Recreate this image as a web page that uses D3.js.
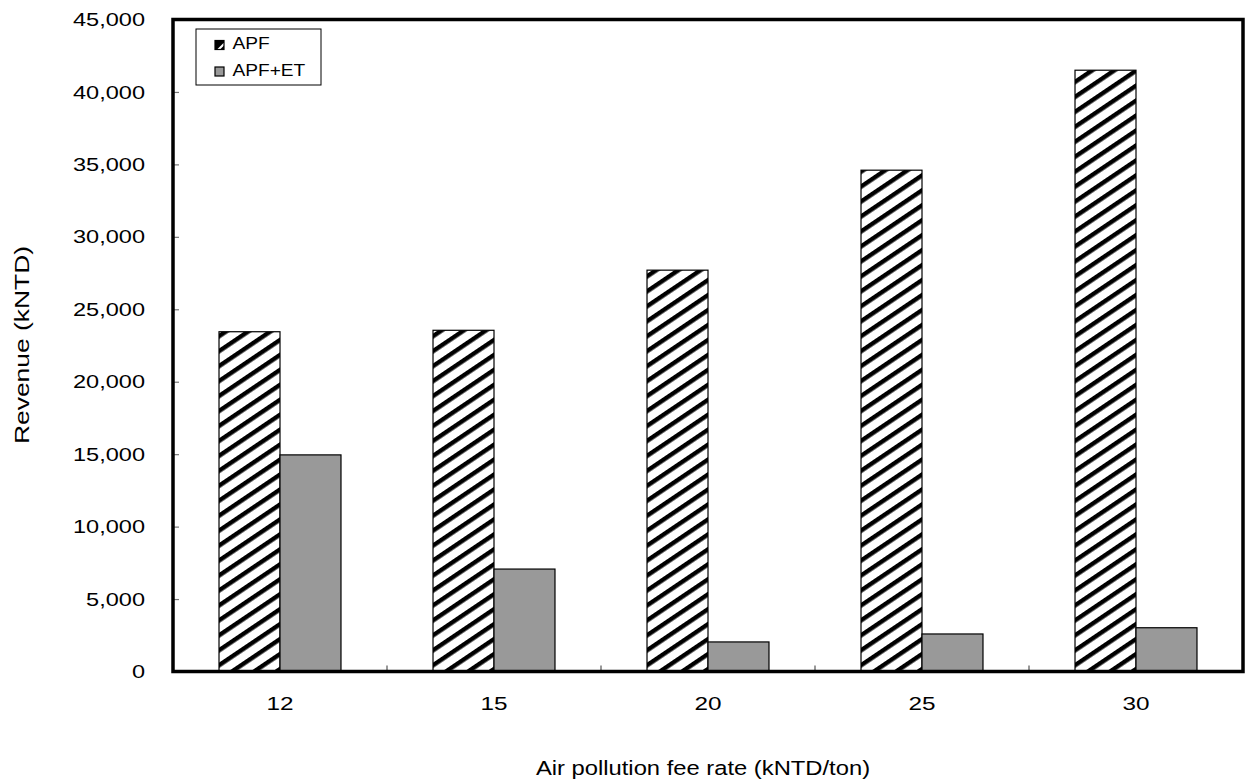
<!DOCTYPE html>
<html>
<head>
<meta charset="utf-8">
<script src="https://cdn.jsdelivr.net/npm/d3@7"></script>
<style>
  html, body { margin: 0; padding: 0; background: #fff; }
  svg { display: block; font-family: "Liberation Sans", Arial, sans-serif; }
</style>
</head>
<body>
<svg id="chart" width="1246" height="783"></svg>
<script>
// Fee rates (kNTD/ton) on the x axis
const categories = ["12", "15", "20", "25", "30"];
// Revenue (kNTD) for each policy scenario
const apfValues = [23450, 23550, 27700, 34600, 41500];
const apfEtValues = [14950, 7070, 2040, 2590, 3020];
const seriesNames = ["APF", "APF+ET"];
const yTicks = [0, 5000, 10000, 15000, 20000, 25000, 30000, 35000, 40000, 45000];

const svg = d3.select("#chart");
const margin = { left: 173, right: 3, top: 19.5, bottom: 111.5 };
const W = 1246, H = 783;
const innerW = W - margin.left - margin.right;
const innerH = H - margin.top - margin.bottom;

// Widen a text element horizontally about its own anchor point
function widen(sel, sx) {
  sel.each(function () {
    const t = d3.select(this);
    const x = +(t.attr("x") || 0);
    t.attr("transform", `translate(${x * (1 - sx)},0) scale(${sx},1)`);
  });
}

// Diagonal hatch for the APF bars
const defs = svg.append("defs");
const pat = defs.append("pattern")
  .attr("id", "hatch")
  .attr("patternUnits", "userSpaceOnUse")
  .attr("width", 12.4).attr("height", 12.4)
  .attr("patternTransform", "rotate(-34)");
pat.append("rect").attr("width", 12.4).attr("height", 12.4).attr("fill", "#fff");
pat.append("rect").attr("x", 0).attr("y", 0).attr("width", 12.4).attr("height", 4.4).attr("fill", "#000");

const g = svg.append("g").attr("transform", `translate(${margin.left},${margin.top})`);

const x0 = d3.scaleBand().domain(categories).range([0, innerW]).padding(0);
const x1 = d3.scaleBand().domain(seriesNames).range([0, x0.bandwidth() * 0.57])
  .padding(0);
const y = d3.scaleLinear().domain([0, 45000]).range([innerH, 0]);

const rows = categories.map((c, i) => ({ cat: c, vals: [apfValues[i], apfEtValues[i]] }));

// Bars
const groups = g.selectAll("g.cat").data(rows).enter().append("g")
  .attr("transform", d => `translate(${x0(d.cat) + x0.bandwidth() / 2 - x1.range()[1] / 2},0)`);
groups.selectAll("rect").data(d => d.vals.map((v, k) => ({ v, s: seriesNames[k] })))
  .enter().append("rect")
  .attr("x", d => x1(d.s))
  .attr("y", d => y(d.v))
  .attr("width", x1.bandwidth())
  .attr("height", d => innerH - y(d.v))
  .attr("fill", d => d.s === "APF" ? "url(#hatch)" : "#999999")
  .attr("stroke", "#000")
  .attr("stroke-width", 1.2);

// Y axis with ticks pointing into the plot
const yAxis = d3.axisLeft(y).tickValues(yTicks).tickSize(-6).tickPadding(28)
  .tickFormat(d3.format(","));
const ya = g.append("g").call(yAxis);
ya.select(".domain").remove();
ya.selectAll(".tick line").attr("stroke", "#777").attr("stroke-width", 1.2);
ya.selectAll(".tick text").attr("font-size", 19).attr("fill", "#000")
  .attr("font-family", "Liberation Sans, Arial, sans-serif")
  .call(widen, 1.24);

// X axis: labels under categories, tick marks between categories
const xa = g.append("g").attr("transform", `translate(0,${innerH})`)
  .call(d3.axisBottom(x0).tickSize(0).tickPadding(25));
xa.select(".domain").remove();
xa.selectAll(".tick text").attr("font-size", 19).attr("fill", "#000")
  .attr("font-family", "Liberation Sans, Arial, sans-serif")
  .call(widen, 1.28);
g.append("g").selectAll("line").data(categories.slice(1)).enter().append("line")
  .attr("x1", d => x0(d)).attr("x2", d => x0(d))
  .attr("y1", innerH).attr("y2", innerH - 6)
  .attr("stroke", "#555").attr("stroke-width", 1.2);

// Plot frame
g.append("rect").attr("x", 0).attr("y", 0).attr("width", innerW).attr("height", innerH)
  .attr("fill", "none").attr("stroke", "#000").attr("stroke-width", 3.5);

// Axis titles
svg.append("text").attr("x", 703).attr("y", 775).attr("text-anchor", "middle")
  .attr("font-size", 20.5).text("Air pollution fee rate (kNTD/ton)")
  .call(widen, 1.16);
svg.append("g").attr("transform", "translate(29,345) rotate(-90)")
  .append("text").attr("x", 0).attr("y", 0)
  .attr("text-anchor", "middle").attr("font-size", 20.5).text("Revenue (kNTD)")
  .call(widen, 1.29);

// Legend
const lg = svg.append("g").attr("transform", "translate(196,29)");
lg.append("rect").attr("x", 0).attr("y", 0).attr("width", 125).attr("height", 56)
  .attr("fill", "#fff").attr("stroke", "#000").attr("stroke-width", 1);
const key1 = lg.append("g").attr("transform", "translate(19,11.5)");
key1.append("rect").attr("width", 9).attr("height", 9).attr("fill", "#fff")
  .attr("stroke", "#000").attr("stroke-width", 1.2);
key1.append("path").attr("d", "M0,0 L9,0 L9,2 L2,9 L0,9 Z").attr("fill", "#000");
key1.append("path").attr("d", "M9,5 L5,9 L9,9 Z").attr("fill", "#000");
const key2 = lg.append("g").attr("transform", "translate(19,38)");
key2.append("rect").attr("width", 9).attr("height", 9).attr("fill", "#999999")
  .attr("stroke", "#000").attr("stroke-width", 1.2);
lg.append("text").attr("x", 36.5).attr("y", 20.5).attr("font-size", 16.5).text(seriesNames[0])
  .call(widen, 1.16);
lg.append("text").attr("x", 36.5).attr("y", 47.5).attr("font-size", 16.5).text(seriesNames[1])
  .call(widen, 1.16);
</script>
</body>
</html>
